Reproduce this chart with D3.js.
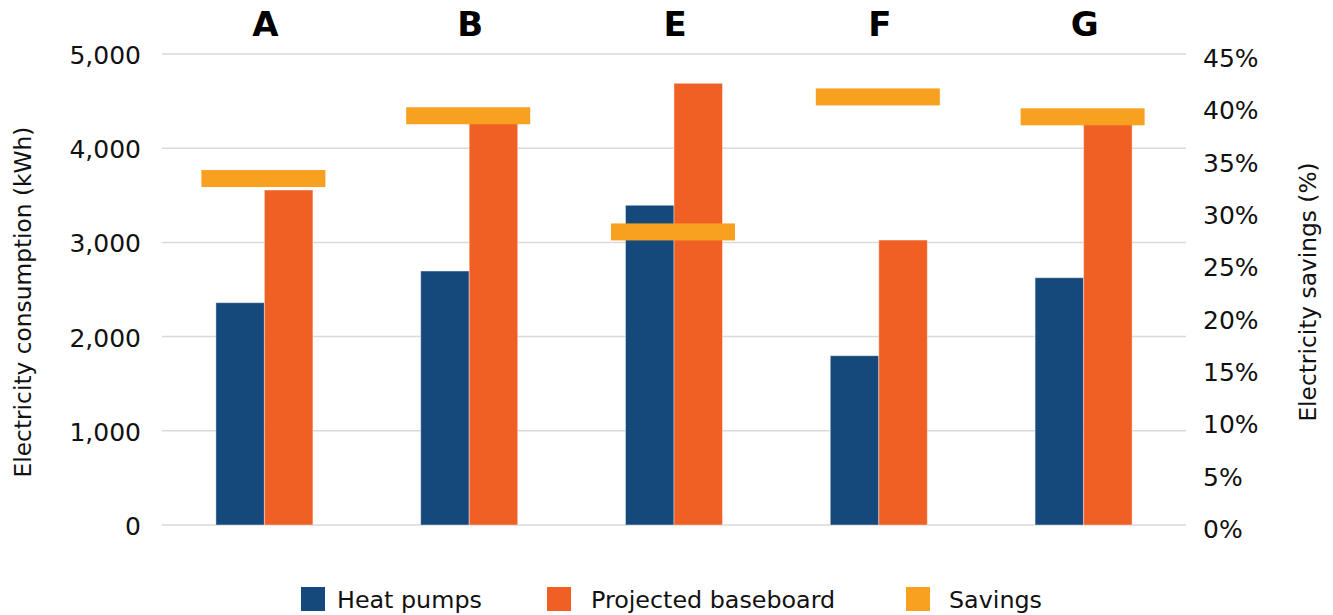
<!DOCTYPE html>
<html><head><meta charset="utf-8">
<script src="https://cdn.jsdelivr.net/npm/d3@7"></script>
<style>
html,body{margin:0;padding:0;background:#fff;}
svg{display:block;font-family:"DejaVu Sans",sans-serif;}
</style></head>
<body><svg id="c" width="1333" height="615"></svg>
<script>
const categories = ["A","B","E","F","G"];
const heatPumps = [2360, 2696, 3394, 1797, 2625];
const baseboard = [3556, 4390, 4689, 3025, 4300];
const savings = [0.331, 0.391, 0.280, 0.409, 0.390];
const leftTicks = [0,1000,2000,3000,4000,5000];
const rightTicks = [0,0.05,0.10,0.15,0.20,0.25,0.30,0.35,0.40,0.45];
const seriesNames = ["Heat pumps","Projected baseboard","Savings"];
const colors = ["#15497C","#F06024","#F8A020"];

const svg = d3.select("#c");
const L = 162, R = 1186, T = 54, B = 525;

const x0 = d3.scaleBand().domain(categories).range([L,R]).padding(0);
const x1 = d3.scaleBand().domain([0,1]).range([0,97]);
const yL = d3.scaleLinear().domain([0,5000]).range([B,T]);
const yR = d3.scaleLinear().domain([0,0.45]).range([B,T]);

// gridlines
svg.append("g").selectAll("line").data(leftTicks).join("line")
  .attr("x1",L).attr("x2",R)
  .attr("y1",d=>yL(d)).attr("y2",d=>yL(d))
  .attr("stroke","#d9d9d9").attr("stroke-width",1.5);

// left axis
const axL = svg.append("g").attr("transform",`translate(${L},0)`)
  .call(d3.axisLeft(yL).tickValues(leftTicks).tickFormat(d3.format(",")).tickSize(0).tickPadding(21));
axL.select(".domain").remove();
axL.selectAll("text").attr("font-size",25).attr("fill","#111").attr("font-family","DejaVu Sans").attr("dy","0.38em");

// right axis
const axR = svg.append("g").attr("transform",`translate(${R},0)`)
  .call(d3.axisRight(yR).tickValues(rightTicks).tickFormat(d3.format(".0%")).tickSize(0).tickPadding(17));
axR.select(".domain").remove();
axR.selectAll("text").attr("font-size",25).attr("fill","#111").attr("font-family","DejaVu Sans").attr("dy","0.5em");

// bars
const groups = svg.append("g").selectAll("g").data(categories).join("g")
  .attr("transform",d=>`translate(${x0(d)+x0.bandwidth()/2-48.5},0)`);
groups.append("rect")
  .attr("x",x1(0)).attr("width",x1.bandwidth())
  .attr("y",(d,i)=>yL(heatPumps[i])).attr("height",(d,i)=>B-yL(heatPumps[i]))
  .attr("fill",colors[0]).attr("stroke","#ffffff").attr("stroke-opacity",0.4).attr("stroke-width",1);
groups.append("rect")
  .attr("x",x1(1)).attr("width",x1.bandwidth())
  .attr("y",(d,i)=>yL(baseboard[i])).attr("height",(d,i)=>B-yL(baseboard[i]))
  .attr("fill",colors[1]).attr("stroke","#ffffff").attr("stroke-opacity",0.4).attr("stroke-width",1);

// savings markers
svg.append("g").selectAll("rect").data(categories).join("rect")
  .attr("x",d=>x0(d)+x0.bandwidth()/2-63).attr("width",124)
  .attr("y",(d,i)=>yR(savings[i])-8.5).attr("height",17)
  .attr("fill",colors[2]);

// category labels on top
svg.append("g").selectAll("text").data(categories).join("text")
  .attr("x",d=>x0(d)+x0.bandwidth()/2+1).attr("y",36)
  .attr("text-anchor","middle").attr("font-size",34).attr("font-weight","bold")
  .attr("fill","#000").text(d=>d);

// axis titles
svg.append("text").attr("transform","translate(31,302) rotate(-90)")
  .attr("text-anchor","middle").attr("font-size",23.3).attr("fill","#111")
  .text("Electricity consumption (kWh)");
svg.append("text").attr("transform","translate(1316,292) rotate(-90)")
  .attr("text-anchor","middle").attr("font-size",23.3).attr("fill","#111")
  .text("Electricity savings (%)");

// legend
const legendX = [301, 547, 906];
const textOff = [36, 44, 43];
const lg = svg.append("g").selectAll("g").data(seriesNames).join("g")
  .attr("transform",(d,i)=>`translate(${legendX[i]},587)`);
lg.append("rect").attr("width",24).attr("height",24).attr("fill",(d,i)=>colors[i]);
lg.append("text").attr("x",(d,i)=>textOff[i]).attr("y",21)
  .attr("font-size",23.8).attr("fill","#111").text(d=>d);
</script></body></html>
